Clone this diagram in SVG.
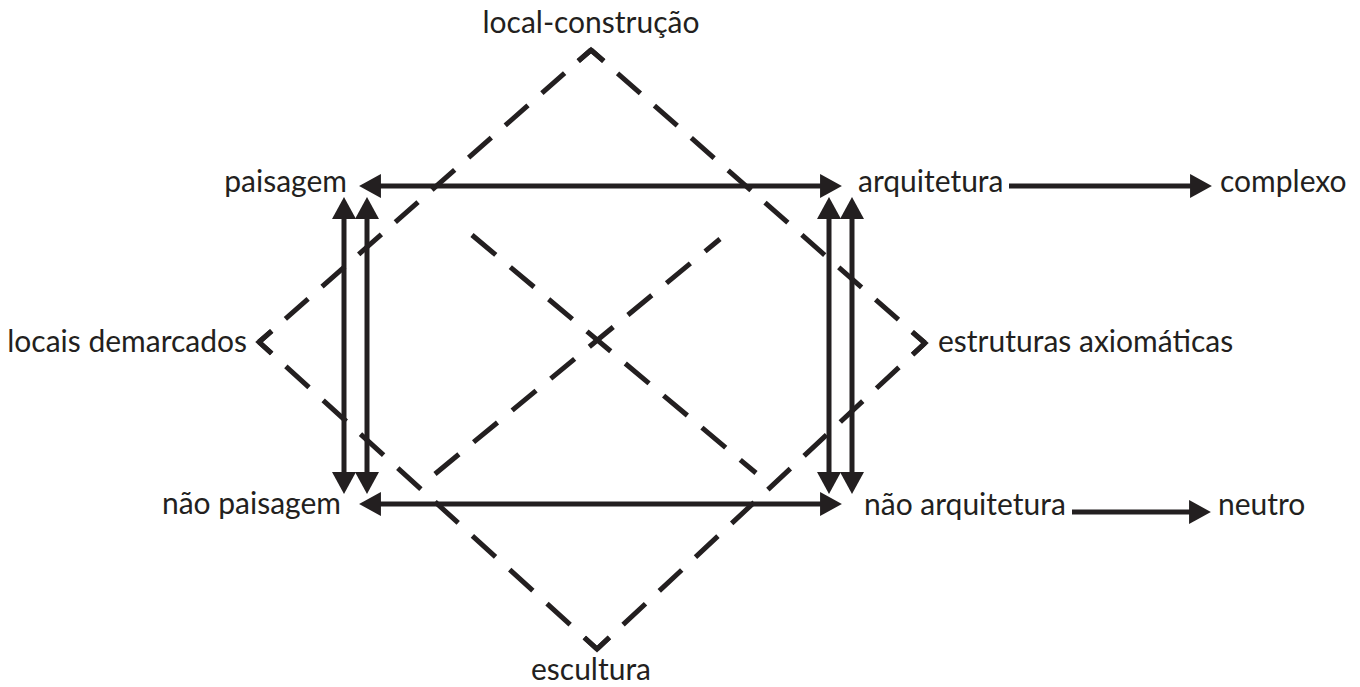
<svg xmlns="http://www.w3.org/2000/svg" width="1360" height="687" viewBox="0 0 1360 687">
<style>
  .lbl { font-family: "Lato", "Open Sans", sans-serif; font-size: 30px; fill: #231f20; }
  .dash { fill: none; stroke: #231f20; stroke-width: 5; stroke-linecap: butt; }
  .edge { stroke-dasharray: 31 19; stroke-dashoffset: 14; }
  .xl { stroke-dasharray: 31 19; }
  .chev { fill: none; stroke: #231f20; stroke-width: 5; stroke-linejoin: miter; stroke-linecap: butt; }
  .arr { fill: none; stroke: #231f20; stroke-width: 5; }
</style>
<defs>
  <marker id="ah" markerUnits="userSpaceOnUse" markerWidth="22" markerHeight="24" viewBox="0 0 20 22" refX="10" refY="11" orient="auto-start-reverse">
    <path d="M0,0 L20,11 L0,22 Z" fill="#231f20"/>
  </marker>
</defs>

<g id="connectors">
  <!-- dashed diamond -->
  <path class="dash edge" d="M591,50 L925,343" pathLength="453"/>
  <path class="dash edge" d="M925,343 L597,649" pathLength="453"/>
  <path class="dash edge" d="M597,649 L259,342" pathLength="453"/>
  <path class="dash edge" d="M259,342 L591,50" pathLength="453"/>
  <polyline class="chev" points="578.2,61.2 591,50 603.8,61.2"/>
  <polyline class="chev" points="271.8,330.8 259,342 271.6,353.4"/>
  <polyline class="chev" points="584.4,637.6 597,649 609.4,637.4"/>
  <polyline class="chev" points="912.2,331.8 925,343 912.6,354.6"/>
  <!-- dashed X -->
  <path class="dash xl" d="M472,235 L756,473"/>
  <path class="dash xl" d="M435,474 L720,239"/>
  <!-- solid double arrows -->
  <line class="arr" x1="370" y1="186" x2="831" y2="186" marker-start="url(#ah)" marker-end="url(#ah)"/>
  <line class="arr" x1="370" y1="504" x2="831" y2="504" marker-start="url(#ah)" marker-end="url(#ah)"/>
  <line class="arr" x1="344" y1="208" x2="344" y2="483" marker-start="url(#ah)" marker-end="url(#ah)"/>
  <line class="arr" x1="367" y1="208" x2="367" y2="483" marker-start="url(#ah)" marker-end="url(#ah)"/>
  <line class="arr" x1="829" y1="208" x2="829" y2="483" marker-start="url(#ah)" marker-end="url(#ah)"/>
  <line class="arr" x1="852" y1="208" x2="852" y2="483" marker-start="url(#ah)" marker-end="url(#ah)"/>
  <!-- single arrows -->
  <line class="arr" x1="1009" y1="186" x2="1201" y2="186" marker-end="url(#ah)"/>
  <line class="arr" x1="1072" y1="512" x2="1200" y2="512" marker-end="url(#ah)"/>
</g>

<g id="node-local-construcao"><text class="lbl" x="591" y="33" text-anchor="middle">local-construção</text></g>
<g id="node-paisagem"><text class="lbl" x="347" y="192" text-anchor="end">paisagem</text></g>
<g id="node-arquitetura"><text class="lbl" x="858" y="192">arquitetura</text></g>
<g id="node-complexo"><text class="lbl" x="1220" y="192">complexo</text></g>
<g id="node-locais-demarcados"><text class="lbl" x="247" y="352" text-anchor="end">locais demarcados</text></g>
<g id="node-estruturas-axiomaticas"><text class="lbl" x="938" y="352">estruturas axiomáticas</text></g>
<g id="node-nao-paisagem"><text class="lbl" x="341" y="514" text-anchor="end">não paisagem</text></g>
<g id="node-nao-arquitetura"><text class="lbl" x="864" y="515">não arquitetura</text></g>
<g id="node-neutro"><text class="lbl" x="1218" y="515">neutro</text></g>
<g id="node-escultura"><text class="lbl" x="591" y="680" text-anchor="middle">escultura</text></g>
</svg>
